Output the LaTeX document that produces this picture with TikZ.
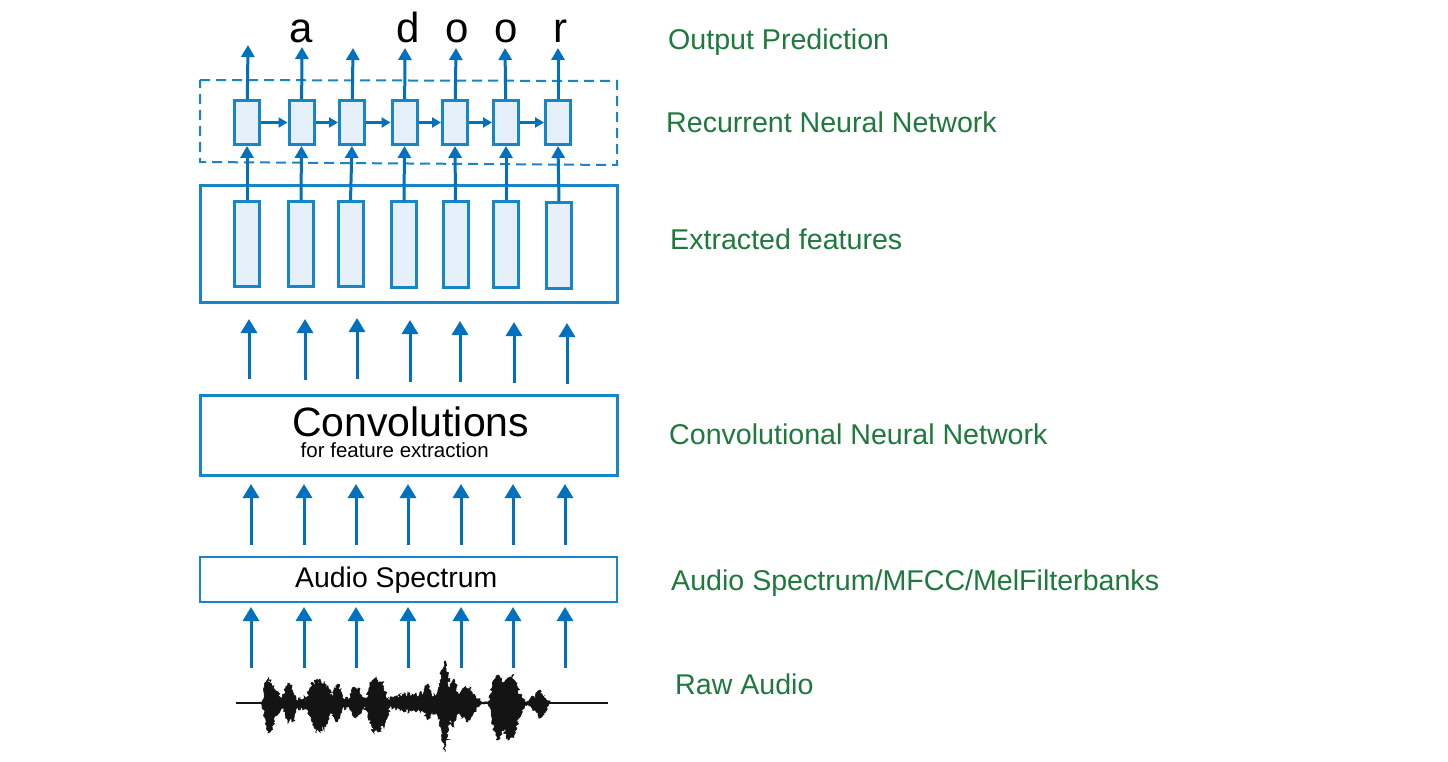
\documentclass[tikz,border=0pt]{standalone}
\usepackage{fontspec}
\setmainfont{Liberation Sans}
\usetikzlibrary{arrows.meta,decorations.pathmorphing}
\definecolor{lblgreen}{RGB}{30,122,60}
\definecolor{arrblue}{RGB}{0,112,192}
\definecolor{boxblue}{RGB}{22,133,202}
\definecolor{cellfill}{RGB}{229,240,250}
\begin{document}
\begin{tikzpicture}[x=1pt,y=-1pt,
  lbl/.style={anchor=base west, inner sep=0, text=lblgreen, font=\fontsize{28.6}{30}\selectfont},
  outletter/.style={anchor=base, inner sep=0, font=\fontsize{42}{44}\selectfont},
  cell/.style={draw=boxblue, fill=cellfill, line width=3pt, minimum width=25pt, minimum height=44pt, inner sep=0},
  featbar/.style={draw=boxblue, fill=cellfill, line width=3pt, minimum width=25pt, minimum height=85pt, inner sep=0},
  bigbox/.style={draw=boxblue, line width=3pt, inner sep=0},
  uparr/.style={draw=arrblue, line width=3pt, -{Triangle[width=16pt,length=14pt]}},
  smallarr/.style={draw=arrblue, line width=3pt, -{Triangle[width=13pt,length=12pt]}},
  sidearr/.style={draw=arrblue, line width=2.8pt, -{Triangle[width=10pt,length=9pt]}},
]
\useasboundingbox[fill=white] (0,0) rectangle (1448,762);

% ---------- right-hand labels ----------
\node[lbl] (lOut)  at (668,50)  {Output Prediction};
\node[lbl] (lRnn)  at (666,133) {Recurrent Neural Network};
\node[lbl] (lFeat) at (670,249) {Extracted features};
\node[lbl] (lCnn)  at (669,444) {Convolutional Neural Network};
\node[lbl] (lSpec) at (671,590) {Audio Spectrum/MFCC/MelFilterbanks};
\node[lbl] (lRaw)  at (675,694) {Raw Audio};

% ---------- output letters ----------
\node[outletter] (wa)  at (301,43) {a};
\node[outletter] (wd)  at (408,43) {d};
\node[outletter] (wo1) at (457,43) {o};
\node[outletter] (wo2) at (506,43) {o};
\node[outletter] (wr)  at (560,43) {r};

% ---------- RNN dashed frame ----------
\draw[boxblue, line width=2pt, dash pattern=on 10pt off 6pt] (200,80) -- (617,81) -- (617,165) -- (200,162) -- cycle;

% ---------- feature box ----------
\node[bigbox, minimum width=417pt, minimum height=116pt] (featbox) at (408.5,244) {};

% ---------- RNN cells ----------
\node[cell] (c1) at (247,122.5) {};
\node[cell] (c2) at (301.5,122.5) {};
\node[cell] (c3) at (352,122.5) {};
\node[cell] (c4) at (404.5,122.5) {};
\node[cell] (c5) at (455,122.5) {};
\node[cell] (c6) at (506,122.5) {};
\node[cell] (c7) at (558,122.5) {};

% ---------- feature bars ----------
\node[featbar] (b1) at (247,244) {};
\node[featbar] (b2) at (301,244) {};
\node[featbar] (b3) at (350.5,244) {};
\node[featbar] (b4) at (404,244.5) {};
\node[featbar] (b5) at (455.5,244.5) {};
\node[featbar] (b6) at (506,244.5) {};
\node[featbar] (b7) at (559,245.5) {};

% ---------- output arrows ----------
\coordinate (o1) at (248,45);
\coordinate (o2) at (302,47);
\coordinate (o3) at (353,48);
\coordinate (o4) at (405,48);
\coordinate (o5) at (456,48);
\coordinate (o6) at (505,48);
\coordinate (o7) at (558,48);
\foreach \i in {1,...,7} { \draw[smallarr] (c\i) -- (o\i); }

% ---------- recurrent arrows ----------
\foreach \i/\j in {1/2,2/3,3/4,4/5,5/6,6/7} { \draw[sidearr] (c\i) -- (c\j); }

% ---------- feature -> cell arrows ----------
\foreach \i in {1,...,7} { \draw[smallarr] (b\i.north) -- (c\i.south); }

% ---------- conv box ----------
\node[bigbox, minimum width=417pt, minimum height=80pt] (conv) at (409,435.5) {};
\node[anchor=base west, inner sep=0, font=\fontsize{41}{43}\selectfont] (convT) at (292,436) {Convolutions};
\node[anchor=base west, inner sep=0, font=\fontsize{20.5}{22}\selectfont] (convS) at (300.5,457.5) {for feature extraction};

% ---------- conv -> features arrows ----------
\foreach \i/\x/\yt/\yb in {1/249/319/379, 2/305/319/380, 3/357/318/379, 4/410/320/382, 5/460/321/382, 6/514/322/383, 7/567/323/384} {
  \coordinate (ft\i) at (\x,\yt);
  \coordinate (fb\i) at (\x,\yb);
  \draw[uparr] (fb\i) -- (ft\i);
}

% ---------- spectrum box ----------
\node[draw=boxblue, line width=2pt, minimum width=417pt, minimum height=45pt, inner sep=0] (spec) at (408.5,579) {};
\node[anchor=base west, inner sep=0, font=\fontsize{28.4}{30}\selectfont] (specT) at (295,587) {Audio Spectrum};

% ---------- spectrum -> conv arrows ----------
\foreach \i/\x in {1/251, 2/304, 3/356, 4/408, 5/461, 6/513, 7/565} {
  \coordinate (ct\i) at (\x,484);
  \coordinate (cb\i) at (\x,545);
  \draw[uparr] (cb\i) -- (ct\i);
}

% ---------- wave -> spectrum arrows ----------
\foreach \i/\x in {1/251, 2/304, 3/356, 4/408, 5/461, 6/513, 7/565} {
  \coordinate (st\i) at (\x,607);
  \coordinate (sb\i) at (\x,668);
  \draw[uparr] (sb\i) -- (st\i);
}

% ---------- raw audio waveform ----------
\draw[black!92, line width=2.5pt] (236,703) -- (608,703);
\pgfmathsetseed{11}
\filldraw[black!92, line width=0.6pt, decorate, decoration={random steps, segment length=1.6pt, amplitude=1.8pt}]
 (262,703) -- (264,695) -- (266,682) -- (268,677) -- (269,684) -- (270,680) -- (272,690) -- (274,686) -- (276,694) -- (278,692) -- (280,697) -- (282,700) -- (284,694) -- (286,686) -- (288,683) -- (290,688) -- (292,685) -- (294,694) -- (296,698) -- (298,701) -- (300,697) -- (302,700) -- (304,696) -- (306,701) -- (308,694) -- (310,688) -- (312,682) -- (314,686) -- (316,680) -- (318,683) -- (320,679) -- (322,684) -- (324,681) -- (326,688) -- (328,686) -- (330,693) -- (332,698) -- (334,690) -- (336,686) -- (338,684) -- (340,692) -- (342,698) -- (344,700) -- (346,697) -- (348,700) -- (350,694) -- (352,688) -- (354,687) -- (356,690) -- (358,688) -- (360,693) -- (362,697) -- (364,700) -- (366,698) -- (368,692) -- (370,686) -- (372,682) -- (374,679) -- (376,677) -- (378,680) -- (380,684) -- (382,682) -- (384,689) -- (386,694) -- (388,698) -- (390,701) -- (392,697) -- (394,699) -- (396,696) -- (398,698) -- (400,694) -- (402,697) -- (404,693) -- (406,696) -- (408,692) -- (410,696) -- (412,694) -- (414,698) -- (416,693) -- (418,697) -- (420,692) -- (422,696) -- (424,690) -- (426,686) -- (428,684) -- (430,690) -- (432,697) -- (434,694) -- (436,698) -- (438,690) -- (440,680) -- (442,670) -- (444,662) -- (445,661) -- (446,668) -- (448,676) -- (450,688) -- (452,682) -- (454,679) -- (456,688) -- (458,696) -- (460,694) -- (462,690) -- (464,688) -- (466,686) -- (468,689) -- (470,687) -- (472,692) -- (474,694) -- (476,697) -- (478,699) -- (480,701) -- (484,702) -- (488,702) -- (490,698) -- (492,688) -- (494,680) -- (496,676) -- (498,675) -- (500,678) -- (502,682) -- (504,686) -- (506,681) -- (508,678) -- (510,677) -- (512,675) -- (514,680) -- (516,684) -- (518,690) -- (520,694) -- (522,698) -- (524,701) -- (528,702) -- (530,699) -- (532,696) -- (534,698) -- (536,693) -- (538,691) -- (540,690) -- (542,694) -- (544,696) -- (546,699) -- (548,701) -- (550,703)
 -- (548,706) -- (546,708) -- (544,712) -- (542,716) -- (540,718) -- (538,715) -- (536,712) -- (534,710) -- (532,708) -- (530,706) -- (528,704) -- (524,705) -- (522,710) -- (520,716) -- (518,722) -- (516,730) -- (514,735) -- (512,737) -- (510,734) -- (508,740) -- (506,736) -- (504,728) -- (502,734) -- (500,738) -- (498,740) -- (496,735) -- (494,728) -- (492,718) -- (490,708) -- (488,704) -- (484,704) -- (480,705) -- (478,707) -- (476,710) -- (474,712) -- (472,716) -- (470,720) -- (468,722) -- (466,719) -- (464,716) -- (462,718) -- (460,714) -- (458,712) -- (456,720) -- (454,727) -- (452,722) -- (450,718) -- (448,730) -- (446,745) -- (445,752) -- (444,748) -- (442,738) -- (440,726) -- (438,716) -- (436,710) -- (434,714) -- (432,711) -- (430,716) -- (428,720) -- (426,716) -- (424,712) -- (422,710) -- (420,713) -- (418,709) -- (416,712) -- (414,708) -- (412,711) -- (410,709) -- (408,713) -- (406,709) -- (404,712) -- (402,708) -- (400,711) -- (398,708) -- (396,710) -- (394,707) -- (392,709) -- (390,706) -- (388,712) -- (386,720) -- (384,728) -- (382,724) -- (380,730) -- (378,732) -- (376,729) -- (374,733) -- (372,727) -- (370,720) -- (368,714) -- (366,710) -- (364,706) -- (362,710) -- (360,714) -- (358,716) -- (356,718) -- (354,717) -- (352,714) -- (350,710) -- (348,707) -- (346,709) -- (344,706) -- (342,710) -- (340,716) -- (338,720) -- (336,722) -- (334,717) -- (332,710) -- (330,714) -- (328,720) -- (326,724) -- (324,730) -- (322,726) -- (320,732) -- (318,729) -- (316,733) -- (314,728) -- (312,722) -- (310,716) -- (308,710) -- (306,706) -- (304,709) -- (302,707) -- (300,710) -- (298,707) -- (296,712) -- (294,718) -- (292,722) -- (290,719) -- (288,723) -- (286,716) -- (284,710) -- (282,708) -- (280,711) -- (278,714) -- (276,716) -- (274,720) -- (272,726) -- (270,732) -- (268,733) -- (267,726) -- (266,720) -- (264,710) -- cycle;
\end{tikzpicture}
\end{document}
